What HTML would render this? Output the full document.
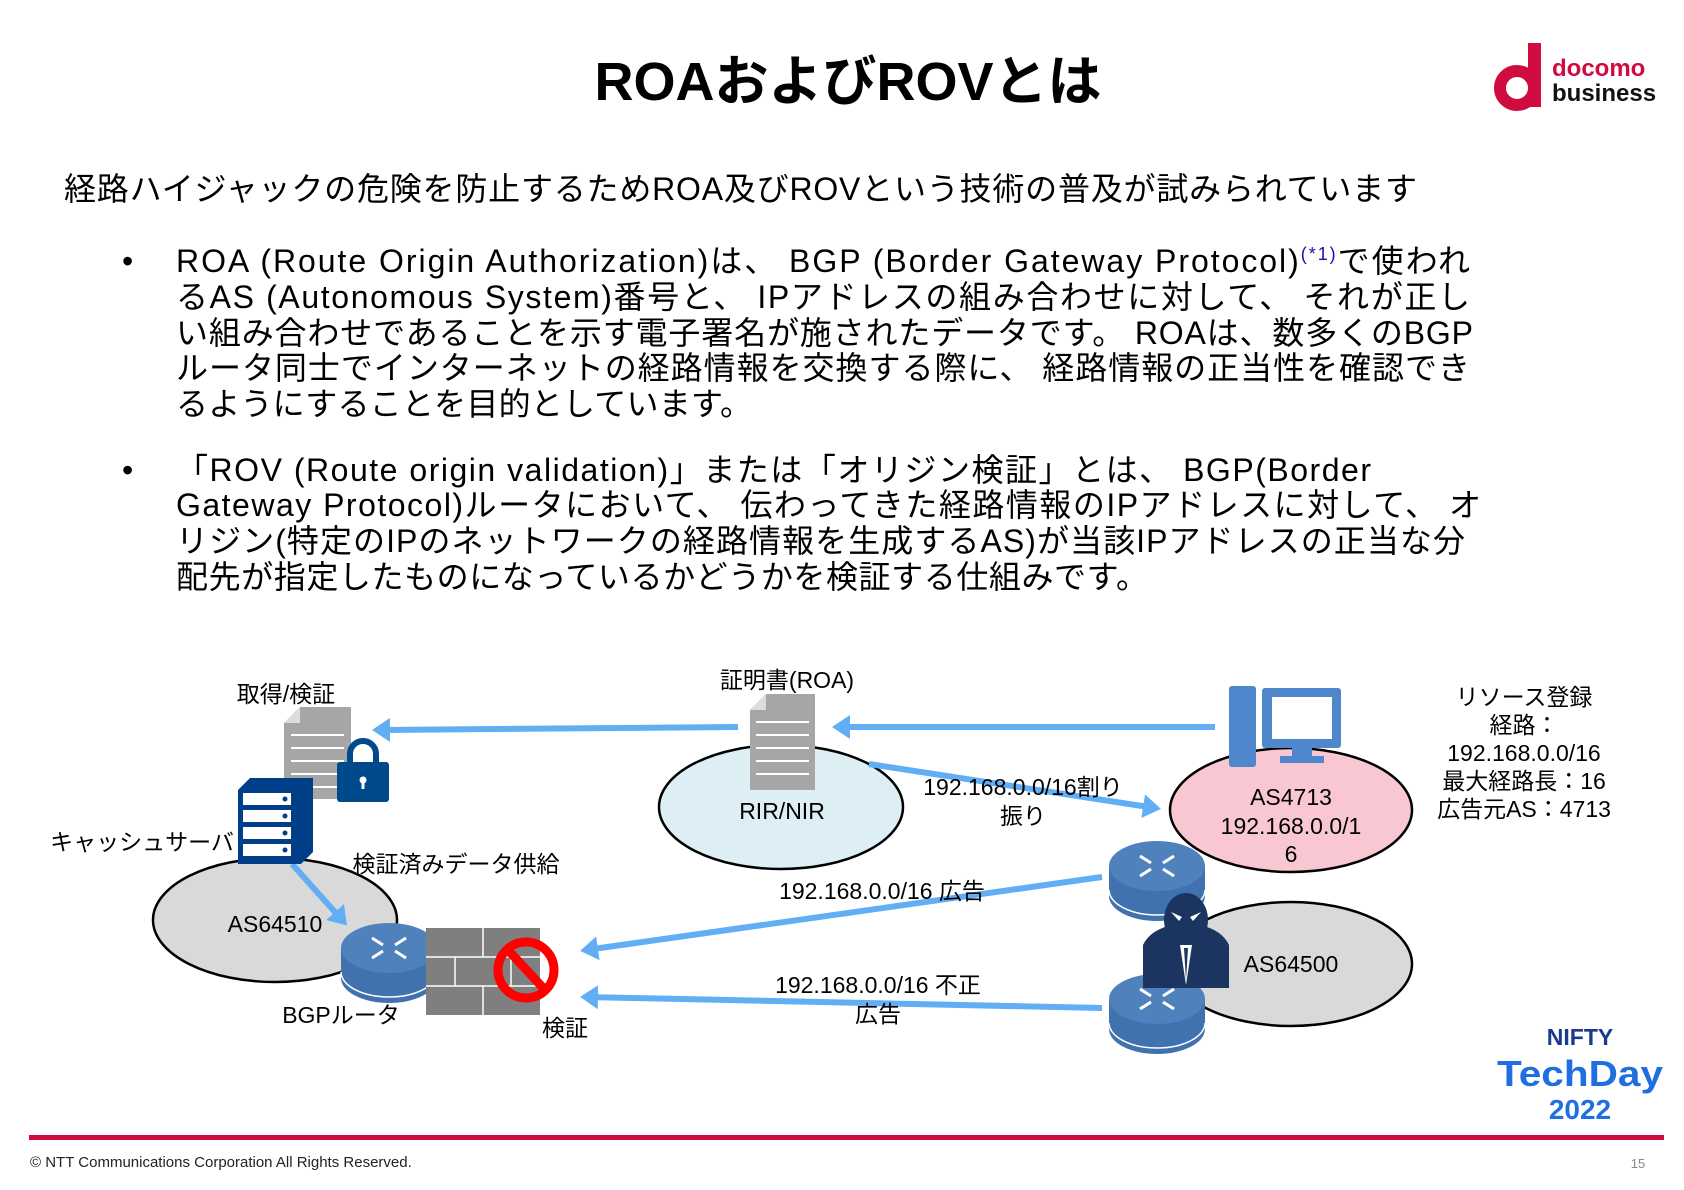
<!DOCTYPE html>
<html><head><meta charset="utf-8"><style>
html,body{margin:0;padding:0;background:#fff;}
svg{display:block;}
text{font-family:"Liberation Sans","Noto Sans CJK JP",sans-serif;fill:#000;}
.b{font-size:32px;}
.d{font-size:23px;}
</style></head><body>
<svg width="1684" height="1190" viewBox="0 0 1684 1190" xmlns="http://www.w3.org/2000/svg">
<defs>
<marker id="ah" markerWidth="4" markerHeight="4" refX="2" refY="2" orient="auto" markerUnits="strokeWidth">
<path d="M0,0 L3,2 L0,4 Z" fill="#62aef5"/></marker>
</defs>
<text x="848" y="100" text-anchor="middle" font-size="54" font-weight="bold">ROAおよびROVとは</text>
<circle cx="1517" cy="88" r="17" fill="none" stroke="#d00b3f" stroke-width="12"/>
<rect x="1528" y="43" width="13" height="64" fill="#d00b3f"/>
<text x="1552" y="76" font-size="24" font-weight="bold" style="fill:#d00b3f">docomo</text>
<text x="1552" y="101" font-size="24" font-weight="bold" style="fill:#111">business</text>
<text x="64" y="200" class="b" textLength="1353" lengthAdjust="spacing">経路ハイジャックの危険を防止するためROA及びROVという技術の普及が試みられています</text>
<text x="122" y="272" class="b">•</text>
<text x="176" y="272" class="b" textLength="1294" lengthAdjust="spacing">ROA (Route Origin Authorization)は、 BGP (Border Gateway Protocol)<tspan font-size="18" dy="-12" style="fill:#1a0dab">(*1)</tspan><tspan dy="12">で使われ</tspan></text>
<text x="176" y="308" class="b" textLength="1294" lengthAdjust="spacing">るAS (Autonomous System)番号と、 IPアドレスの組み合わせに対して、 それが正し</text>
<text x="176" y="344" class="b" textLength="1297" lengthAdjust="spacing">い組み合わせであることを示す電子署名が施されたデータです。 ROAは、数多くのBGP</text>
<text x="176" y="379" class="b" textLength="1294" lengthAdjust="spacing">ルータ同士でインターネットの経路情報を交換する際に、 経路情報の正当性を確認でき</text>
<text x="176" y="415" class="b" textLength="576" lengthAdjust="spacing">るようにすることを目的としています。</text>
<text x="122" y="481" class="b">•</text>
<text x="176" y="481" class="b" textLength="1195" lengthAdjust="spacing">「ROV (Route origin validation)」または「オリジン検証」とは、 BGP(Border</text>
<text x="176" y="516" class="b" textLength="1305" lengthAdjust="spacing">Gateway Protocol)ルータにおいて、 伝わってきた経路情報のIPアドレスに対して、 オ</text>
<text x="176" y="552" class="b" textLength="1289" lengthAdjust="spacing">リジン(特定のIPのネットワークの経路情報を生成するAS)が当該IPアドレスの正当な分</text>
<text x="176" y="588" class="b" textLength="972" lengthAdjust="spacing">配先が指定したものになっているかどうかを検証する仕組みです。</text>

<ellipse cx="275" cy="920" rx="122" ry="62" fill="#d9d9d9" stroke="#000" stroke-width="2.5"/>
<ellipse cx="781" cy="807" rx="122" ry="62" fill="#ddeef5" stroke="#000" stroke-width="2.5"/>
<ellipse cx="1291" cy="810" rx="121" ry="62" fill="#f9c7d2" stroke="#000" stroke-width="2.5"/>
<ellipse cx="1291" cy="964" rx="121" ry="62" fill="#d9d9d9" stroke="#000" stroke-width="2.5"/>

<g stroke="#62aef5" stroke-width="6" fill="none">
<line x1="738" y1="727" x2="378" y2="730" marker-end="url(#ah)"/>
<line x1="1215" y1="727" x2="838" y2="727" marker-end="url(#ah)"/>
<line x1="869" y1="764" x2="1155" y2="808" marker-end="url(#ah)"/>
<line x1="292" y1="864" x2="343" y2="921" marker-end="url(#ah)"/>
<line x1="1102" y1="877" x2="586" y2="950" marker-end="url(#ah)"/>
<line x1="1102" y1="1008" x2="586" y2="997" marker-end="url(#ah)"/>
</g>

<g>
<path d="M300,707 L351,707 L351,799 L284,799 L284,723 Z" fill="#a6a6a6"/>
<path d="M284,723 L300,723 L300,707 Z" fill="#ddd"/>
<g stroke="#fff" stroke-width="2"><line x1="291" y1="735" x2="344" y2="735"/><line x1="291" y1="748" x2="344" y2="748"/><line x1="291" y1="761" x2="344" y2="761"/><line x1="291" y1="774" x2="344" y2="774"/><line x1="291" y1="787" x2="344" y2="787"/></g>
<path d="M350,762 v-8 a13,13 0 0 1 26,0 v8" fill="none" stroke="#004a8c" stroke-width="6"/>
<rect x="337" y="762" width="52" height="40" rx="3" fill="#004a8c"/>
<circle cx="363" cy="780" r="3.5" fill="#fff"/><rect x="361.5" y="780" width="3" height="9" fill="#fff"/>
</g>
<g>
<path d="M766,694 L815,694 L815,790 L750,790 L750,710 Z" fill="#a6a6a6"/>
<path d="M750,710 L766,710 L766,694 Z" fill="#ddd"/>
<g stroke="#fff" stroke-width="2"><line x1="756" y1="722" x2="809" y2="722"/><line x1="756" y1="735" x2="809" y2="735"/><line x1="756" y1="748" x2="809" y2="748"/><line x1="756" y1="761" x2="809" y2="761"/><line x1="756" y1="774" x2="809" y2="774"/></g>
</g>
<path d="M238,790 L250,778 L313,778 L313,852 L301,864 L238,864 Z" fill="#003f87"/>
<g fill="#fff"><rect x="243" y="793" width="48" height="12"/><rect x="243" y="810" width="48" height="12"/><rect x="243" y="827" width="48" height="12"/><rect x="243" y="844" width="48" height="12"/></g>
<g fill="#003f87"><circle cx="285" cy="799" r="2.5"/><circle cx="285" cy="816" r="2.5"/><circle cx="285" cy="833" r="2.5"/><circle cx="285" cy="850" r="2.5"/></g>

<g id="r1">
<path d="M341,948 v30 a48,25 0 0 0 96,0 v-30" fill="#3f72af"/>
<ellipse cx="389" cy="948" rx="48" ry="25" fill="#4f81bd"/>
<path d="M341,972 a48,25 0 0 0 96,0" fill="none" stroke="#fff" stroke-width="1.5"/>
<g stroke="#fff" stroke-width="3"><line x1="372" y1="938" x2="383" y2="945"/><line x1="406" y1="938" x2="395" y2="945"/><line x1="372" y1="958" x2="383" y2="951"/><line x1="406" y1="958" x2="395" y2="951"/></g>
</g>
<rect x="426" y="928" width="114" height="87" fill="#7f7f7f"/>
<g stroke="#fff" stroke-width="1.5"><line x1="426" y1="957" x2="540" y2="957"/><line x1="426" y1="986" x2="540" y2="986"/><line x1="483" y1="928" x2="483" y2="957"/><line x1="455" y1="957" x2="455" y2="986"/><line x1="511" y1="957" x2="511" y2="986"/><line x1="483" y1="986" x2="483" y2="1015"/></g>
<circle cx="526" cy="970" r="28" fill="none" stroke="#f00" stroke-width="9"/>
<line x1="508" y1="950" x2="545" y2="990" stroke="#f00" stroke-width="9"/>

<use href="#r1" transform="translate(768,-82)"/>
<use href="#r1" transform="translate(768,51)"/>
<rect x="1229" y="686" width="27" height="81" rx="3" fill="#4f87cc"/>
<rect x="1262" y="688" width="79" height="60" rx="3" fill="#4f87cc"/>
<rect x="1272" y="697" width="60" height="42" fill="#fff"/>
<rect x="1292" y="748" width="20" height="10" fill="#4f87cc"/>
<rect x="1280" y="756" width="44" height="7" fill="#4f87cc"/>
<path d="M1143,988 L1143,945 Q1150,930 1172,925 L1200,925 Q1222,930 1229,945 L1229,988 Z" fill="#1b3560"/>
<ellipse cx="1186" cy="920" rx="22" ry="27" fill="#1b3560"/>
<path d="M1171,912 l11,5 l-3,4 z M1201,912 l-11,5 l3,4 z" fill="#fff"/>
<path d="M1180,945 L1186,985 L1192,945 Z" fill="#fff"/>
<path d="M1184,948 L1186,980 L1188,948 Z" fill="#1b3560"/>

<g class="d">
<text x="286" y="702" text-anchor="middle" class="d">取得/検証</text>
<text x="787" y="688" text-anchor="middle" class="d">証明書(ROA)</text>
<text x="142" y="850" text-anchor="middle" class="d">キャッシュサーバ</text>
<text x="456" y="872" text-anchor="middle" class="d">検証済みデータ供給</text>
<text x="275" y="932" text-anchor="middle" class="d">AS64510</text>
<text x="341" y="1023" text-anchor="middle" class="d">BGPルータ</text>
<text x="565" y="1036" text-anchor="middle" class="d">検証</text>
<text x="782" y="819" text-anchor="middle" class="d">RIR/NIR</text>
<text x="1023" y="795" text-anchor="middle" class="d">192.168.0.0/16割り</text>
<text x="1023" y="824" text-anchor="middle" class="d">振り</text>
<text x="1291" y="805" text-anchor="middle" class="d">AS4713</text>
<text x="1291" y="834" text-anchor="middle" class="d">192.168.0.0/1</text>
<text x="1291" y="862" text-anchor="middle" class="d">6</text>
<text x="882" y="899" text-anchor="middle" class="d">192.168.0.0/16 広告</text>
<text x="1291" y="972" text-anchor="middle" class="d">AS64500</text>
<text x="878" y="993" text-anchor="middle" class="d">192.168.0.0/16 不正</text>
<text x="878" y="1022" text-anchor="middle" class="d">広告</text>
<text x="1524" y="705" text-anchor="middle" class="d">リソース登録</text>
<text x="1524" y="733" text-anchor="middle" class="d">経路：</text>
<text x="1524" y="761" text-anchor="middle" class="d">192.168.0.0/16</text>
<text x="1524" y="789" text-anchor="middle" class="d">最大経路長：16</text>
<text x="1524" y="817" text-anchor="middle" class="d">広告元AS：4713</text>
</g>
<text x="1580" y="1045" text-anchor="middle" font-size="23" font-weight="bold" style="fill:#1a3a8c">NIFTY</text>
<text x="1580" y="1086" text-anchor="middle" font-size="36" font-weight="bold" style="fill:#1f6fe0" textLength="166" lengthAdjust="spacingAndGlyphs">TechDay</text>
<text x="1580" y="1119" text-anchor="middle" font-size="28" font-weight="bold" style="fill:#1f6fe0">2022</text>
<rect x="29" y="1135" width="1635" height="5" fill="#d00b3f"/>
<text x="30" y="1167" font-size="15" style="fill:#222">© NTT Communications Corporation All Rights Reserved.</text>
<text x="1638" y="1168" font-size="13" text-anchor="middle" style="fill:#888">15</text>
</svg>
</body></html>
